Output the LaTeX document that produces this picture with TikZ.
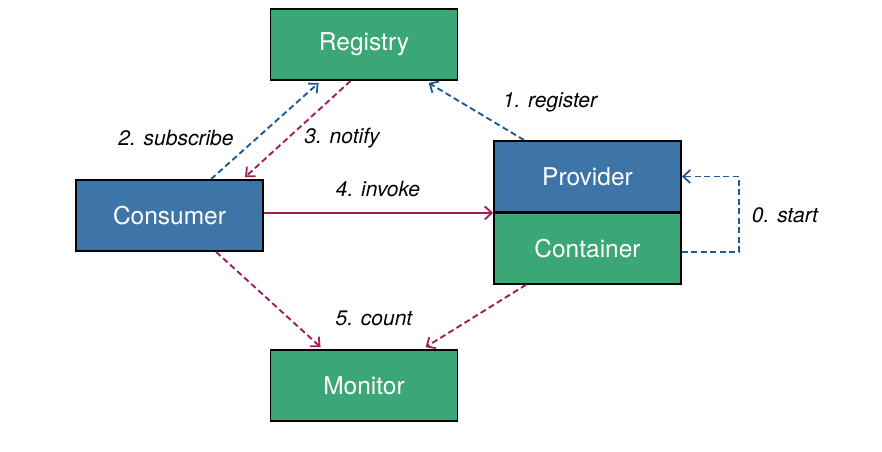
\documentclass[tikz,border=0pt]{standalone}
\usepackage{fontspec}
\setmainfont{TeX Gyre Heros}
\usetikzlibrary{arrows.meta, positioning}

\definecolor{boxgreen}{RGB}{59,166,118}
\definecolor{boxblue}{RGB}{61,117,168}
\definecolor{callred}{RGB}{158,30,88}
\definecolor{callblue}{RGB}{28,92,150}

\begin{document}
\begin{tikzpicture}[
                x = 1pt, y = -1pt, % pixel grid of the picture
                > = {Straight Barb[length=7pt, width=13pt, line width=1.8pt]}, % arrow head style
                line width = 1.9pt % line style
            ]

            \tikzstyle{comp}=[draw = black, line width = 1.8pt, text = white,
            minimum width = 187pt, minimum height = 71pt, inner sep = 0pt,
            font = \fontsize{24.5}{28}\selectfont]
            \tikzstyle{lbl}=[font = \fontsize{21}{24}\selectfont\itshape]
            \tikzstyle{callr}=[draw = callred, ->]
            \tikzstyle{callb}=[draw = callblue, ->]
            \tikzstyle{dashline}=[dash pattern = on 6pt off 3.5pt]

            \useasboundingbox (0,0) rectangle (882,451);

            \node (reg) [comp, fill = boxgreen] at (364,44.5) {Registry};
            \node (cons) [comp, fill = boxblue] at (169.5,215.5) {Consumer};
            \node (prov) [comp, fill = boxblue] at (587.5,176.5) {Provider};
            \node (cont) [comp, fill = boxgreen, below = -1pt of prov] {Container};
            \node (mon) [comp, fill = boxgreen] at (364,385.5) {Monitor};

            % 0. start
            \draw[callb, dashline] ([yshift=-4pt]cont.east) -- ++(57,0) |- (prov.east);
            % 1. register
            \draw[callb, dashline] ([xshift=31pt]prov.north west) -- ([xshift=159pt,yshift=-2pt]reg.south west);
            % 2. subscribe, 3. notify
            \draw[callb, dashline] ([xshift=136pt]cons.north west) -- ([xshift=49pt,yshift=-2pt]reg.south west);
            \draw[callr, dashline] ([xshift=81pt]reg.south west) -- ([xshift=170pt,yshift=2pt]cons.north west);
            % 4. invoke
            \draw[callr] (cons.east |- prov.south) -- (prov.south west);
            % 5. count
            \draw[callr, dashline] ([xshift=141pt]cons.south west) -- ([xshift=51pt,yshift=2pt]mon.north west);
            \draw[callr, dashline] ([xshift=33pt]cont.south west) -- ([xshift=156pt,yshift=2pt]mon.north west);

            \node (l0) [lbl] at (785,215) {0. start};
            \node (l1) [lbl] at (550,102) {1. register};
            \node (l2) [lbl] at (176,138) {2. subscribe};
            \node (l3) [lbl] at (342,138) {3. notify};
            \node (l4) [lbl] at (378,189) {4. invoke};
            \node (l5) [lbl] at (374,318) {5. count};

        \end{tikzpicture}
\end{document}
